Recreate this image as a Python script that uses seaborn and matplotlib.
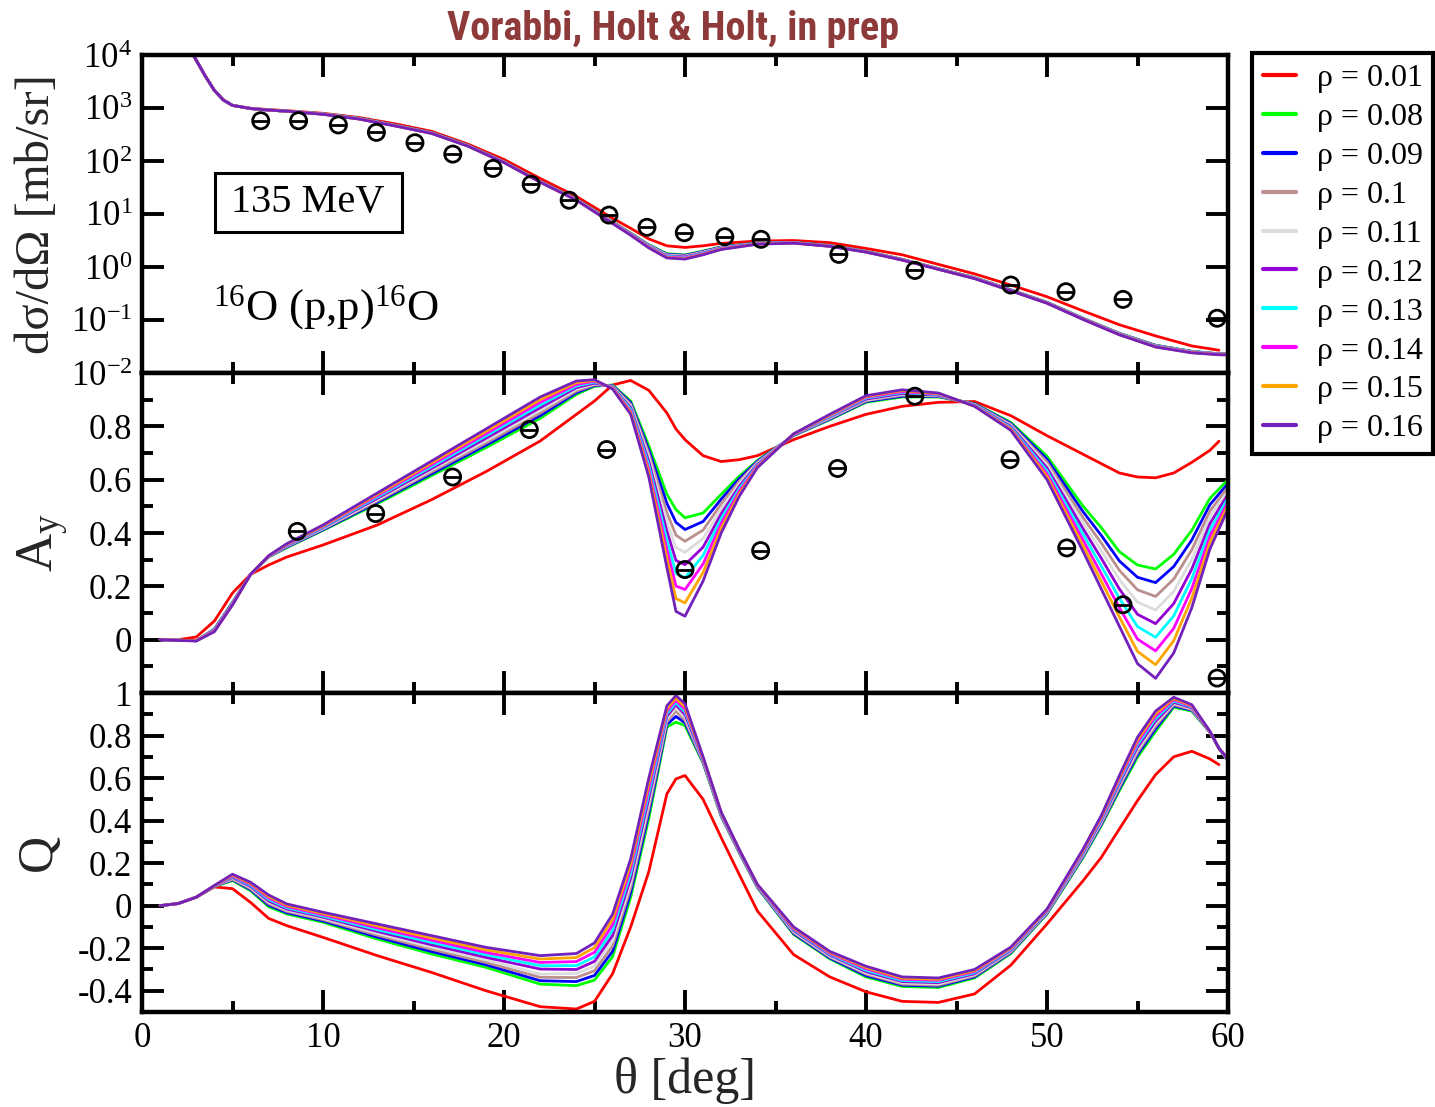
import numpy as np
import pandas as pd
import matplotlib
matplotlib.use("Agg")
import matplotlib.pyplot as plt
import seaborn as sns
from matplotlib import font_manager
from matplotlib.lines import Line2D
from matplotlib.patches import Rectangle
from matplotlib.ticker import (MultipleLocator, FixedLocator, FuncFormatter,
                               LogLocator, NullLocator, LogFormatterSciNotation)

nan = np.nan

# ---------------- legend / series names ----------------
RHO_LABELS = ["ρ = 0.01", "ρ = 0.08", "ρ = 0.09", "ρ = 0.1", "ρ = 0.11",
              "ρ = 0.12", "ρ = 0.13", "ρ = 0.14", "ρ = 0.15", "ρ = 0.16"]
COLORS = ["#FF0000", "#00FF00", "#0000FF", "#BC8F8F", "#DCDCDC",
          "#9400D3", "#00FFFF", "#FF00FF", "#FFA500", "#7221BC"]

# ---------------- cross section (mb/sr) ----------------
TH_XS = [2.5, 3, 3.5, 4, 4.5, 5, 6, 7, 8, 10, 12, 14, 16, 18, 20, 22, 24, 26, 27, 28,
         29, 30, 31, 32, 34, 36, 38, 40, 42, 44, 46, 48, 50, 52, 54, 56, 58, 59.5, 60]
XS_001 = [15800, 7940, 3980, 2140, 1410, 1120, 989, 933, 891, 794, 661, 501, 363, 209, 107, 46.8, 21.4, 8.32, 5.37, 3.39,
          2.51, 2.34, 2.51, 2.79, 3.09, 3.16, 2.88, 2.24, 1.70, 1.12, .741, .457, .275, .148, .0813, .0501, .0324, .0269, nan]
XS_008 = [15800, 7940, 3980, 2140, 1410, 1120, 977, 912, 871, 776, 639, 473, 343, 198, 96.6, 41.2, 19.1, 7.09, 4.36, 2.63,
          1.78, 1.69, 2.00, 2.40, 2.85, 2.92, 2.54, 1.98, 1.40, .934, .631, .372, .217, .108, .0563, .0335, .0257, .0231, .0229]
XS_009 = [15800, 7940, 3980, 2140, 1410, 1120, 977, 912, 871, 774, 636, 471, 341, 197, 96.2, 41.0, 18.9, 7.02, 4.31, 2.58,
          1.74, 1.66, 1.96, 2.37, 2.83, 2.91, 2.53, 1.97, 1.39, .930, .628, .370, .215, .107, .0558, .0332, .0255, .0230, .0228]
XS_010 = [15800, 7940, 3980, 2140, 1410, 1120, 977, 912, 871, 772, 633, 469, 340, 196, 95.7, 40.8, 18.8, 6.96, 4.26, 2.54,
          1.70, 1.62, 1.92, 2.33, 2.81, 2.89, 2.51, 1.96, 1.385, .925, .624, .367, .214, .106, .0553, .0328, .0253, .0229, .0227]
XS_011 = [15800, 7940, 3980, 2140, 1410, 1120, 977, 912, 871, 770, 631, 467, 338, 195, 95.4, 40.7, 18.7, 6.90, 4.21, 2.50,
          1.66, 1.58, 1.88, 2.30, 2.79, 2.88, 2.50, 1.95, 1.38, .922, .620, .365, .213, .106, .0548, .0325, .0251, .0227, .0225]
XS_012 = [15800, 7940, 3980, 2140, 1410, 1120, 977, 912, 871, 768, 627, 465, 337, 194, 94.9, 40.5, 18.6, 6.84, 4.17, 2.45,
          1.62, 1.55, 1.84, 2.27, 2.77, 2.87, 2.49, 1.94, 1.373, .917, .617, .363, .212, .105, .0543, .0322, .0248, .0226, .0224]
XS_013 = [15800, 7940, 3980, 2140, 1410, 1120, 977, 912, 871, 766, 625, 463, 335, 193.5, 94.5, 40.3, 18.5, 6.78, 4.12, 2.41,
          1.59, 1.51, 1.81, 2.23, 2.75, 2.86, 2.48, 1.935, 1.368, .914, .613, .361, .211, .104, .0539, .0319, .0246, .0225, .0223]
XS_014 = [15800, 7940, 3980, 2140, 1410, 1120, 977, 912, 871, 764, 623, 461, 334, 193, 94.1, 40.2, 18.4, 6.72, 4.07, 2.37,
          1.55, 1.48, 1.77, 2.20, 2.73, 2.85, 2.47, 1.93, 1.362, .910, .610, .359, .209, .104, .0534, .0315, .0244, .0224, .0222]
XS_015 = [15800, 7940, 3980, 2140, 1410, 1120, 977, 912, 871, 761, 619, 459, 332, 192, 93.7, 40.0, 18.3, 6.67, 4.03, 2.33,
          1.51, 1.44, 1.73, 2.17, 2.71, 2.83, 2.46, 1.92, 1.355, .906, .607, .357, .208, .103, .0530, .0312, .0242, .0222, .0220]
XS_016 = [15800, 7940, 3980, 2140, 1410, 1120, 977, 912, 871, 759, 617, 457, 331, 191, 93.3, 39.8, 18.2, 6.61, 3.98, 2.29,
          1.48, 1.41, 1.70, 2.14, 2.69, 2.82, 2.45, 1.91, 1.35, .902, .603, .355, .207, .102, .0525, .0309, .0240, .0221, .0219]

# ---------------- analysing power A_y and Q ----------------
TH = [1, 2, 3, 4, 5, 6, 7, 8, 10, 13, 16, 19, 22, 24, 25, 26, 27, 28, 29, 29.5, 30, 31, 32, 33, 34,
      36, 38, 40, 42, 44, 46, 48, 50, 52, 53, 54, 55, 56, 57, 58, 59, 59.5, 60]

AY_001 = [0, 0, .01, .07, .175, .245, .28, .31, .355, .43, .525, .63, .745, .845, .895, .955, .972, .935, .85, .79,
          .75, .69, .668, .675, .69, .75, .80, .845, .875, .89, .893, .84, .765, .695, .66, .625, .61, .607, .625,
          .665, .71, .744, nan]
AY_008 = [0, -.002, -.004, .040, .140, .245, .310, .345, .410, .510, .615, .720, .830, .920, .950, .955, .895, .727,
          .545, .488, .457, .475, .545, .613, .672, .765, .825, .890, .910, .910, .885, .815, .688, .500, .420, .330,
          .280, .265, .320, .410, .530, .565, .600]
AY_009 = [0, -.002, -.004, .039, .139, .245, .311, .347, .412, .515, .622, .729, .840, .926, .953, .953, .889, .712,
          .511, .440, .413, .443, .527, .604, .669, .766, .827, .893, .913, .912, .884, .811, .677, .479, .391, .295,
          .234, .214, .274, .374, .506, .546, .586]
AY_010 = [0, -.002, -.004, .037, .137, .245, .311, .349, .415, .520, .629, .737, .850, .932, .956, .951, .882, .698,
          .476, .392, .369, .411, .509, .594, .665, .767, .830, .896, .917, .914, .882, .807, .666, .457, .362, .260,
          .187, .162, .227, .337, .482, .527, .572]
AY_011 = [0, -.002, -.004, .036, .136, .245, .312, .351, .417, .525, .636, .746, .860, .939, .959, .949, .876, .683,
          .442, .345, .328, .379, .491, .585, .662, .768, .832, .899, .920, .916, .881, .804, .655, .436, .334, .225,
          .141, .111, .181, .301, .459, .509, .559]
AY_012 = [0, -.002, -.004, .035, .135, .245, .312, .352, .420, .530, .642, .755, .870, .945, .962, .947, .870, .668,
          .407, .297, .281, .347, .472, .575, .658, .768, .835, .902, .923, .917, .880, .800, .644, .415, .305, .190,
          .095, .060, .135, .265, .435, .490, .545]
AY_013 = [0, -.002, -.004, .034, .134, .245, .313, .354, .422, .535, .649, .764, .880, .951, .966, .946, .864, .654,
          .373, .249, .232, .316, .454, .566, .655, .769, .837, .906, .927, .919, .879, .796, .633, .394, .276, .155,
          .049, .009, .089, .229, .411, .471, .531]
AY_014 = [0, -.002, -.004, .033, .133, .245, .314, .356, .425, .540, .656, .772, .890, .957, .969, .944, .857, .639,
          .339, .201, .188, .284, .436, .557, .652, .770, .840, .909, .930, .921, .877, .792, .622, .372, .247, .120,
          .002, -.042, .042, .192, .387, .452, .517]
AY_015 = [0, -.002, -.004, .031, .131, .245, .314, .358, .427, .545, .663, .781, .900, .964, .972, .942, .851, .625,
          .304, .154, .138, .252, .418, .547, .648, .771, .842, .912, .934, .923, .876, .789, .611, .351, .219, .085,
          -.044, -.094, -.004, .156, .364, .434, .504]
AY_016 = [0, -.003, -.005, .030, .130, .245, .315, .360, .430, .550, .670, .790, .910, .970, .975, .940, .845, .610,
          .270, .106, .088, .220, .400, .538, .645, .772, .845, .915, .937, .925, .875, .785, .600, .330, .190, .050,
          -.090, -.145, -.050, .120, .340, .415, .490]

Q_001 = [0, .01, .04, .088, .08, .015, -.06, -.094, -.149, -.235, -.314, -.40, -.475, -.486, -.45, -.32, -.10, .16,
         .526, .596, .612, .50, .32, .146, -.025, -.23, -.335, -.405, -.45, -.455, -.415, -.28, -.086, .118, .227,
         .361, .494, .616, .70, .726, .69, .663, nan]
Q_008 = [0, .01, .04, .090, .118, .070, -.005, -.039, -.078, -.157, -.227, -.290, -.369, -.376, -.350, -.240, .040,
         .410, .840, .863, .847, .670, .420, .248, .085, -.135, -.250, -.335, -.380, -.385, -.340, -.225, -.039,
         .227, .376, .541, .698, .820, .933, .915, .815, .740, .680]
Q_009 = [0, .01, .04, .091, .122, .075, .002, -.033, -.072, -.148, -.216, -.278, -.353, -.357, -.328, -.215, .062,
         .434, .852, .890, .860, .674, .422, .250, .087, -.131, -.246, -.329, -.374, -.379, -.335, -.221, -.036,
         .232, .382, .550, .710, .832, .939, .919, .816, .740, .681]
Q_010 = [0, .01, .04, .091, .125, .080, .009, -.027, -.066, -.139, -.205, -.267, -.337, -.338, -.306, -.190, .085,
         .457, .865, .915, .872, .677, .425, .252, .089, -.126, -.241, -.322, -.369, -.374, -.330, -.217, -.033,
         .237, .388, .559, .721, .844, .945, .922, .816, .740, .682]
Q_011 = [0, .01, .04, .092, .129, .085, .016, -.021, -.060, -.130, -.195, -.255, -.322, -.319, -.284, -.165, .107,
         .481, .877, .930, .885, .681, .427, .254, .091, -.122, -.237, -.316, -.363, -.368, -.325, -.214, -.030,
         .242, .394, .568, .733, .856, .951, .926, .817, .740, .684]
Q_012 = [0, .01, .04, .092, .133, .090, .022, -.016, -.054, -.121, -.184, -.243, -.298, -.300, -.262, -.140, .130,
         .505, .890, .945, .898, .685, .430, .256, .092, -.117, -.232, -.310, -.357, -.362, -.320, -.210, -.027,
         .247, .400, .576, .745, .867, .956, .930, .817, .740, .685]
Q_013 = [0, .01, .04, .093, .137, .095, .029, -.010, -.049, -.113, -.173, -.231, -.282, -.282, -.241, -.115, .152,
         .529, .902, .955, .911, .689, .432, .258, .094, -.113, -.228, -.304, -.352, -.357, -.315, -.206, -.025,
         .252, .406, .585, .757, .879, .962, .934, .818, .740, .686]
Q_014 = [0, .01, .04, .094, .140, .100, .036, -.004, -.043, -.104, -.162, -.220, -.267, -.263, -.219, -.090, .175,
         .552, .915, .965, .923, .692, .435, .260, .096, -.109, -.224, -.297, -.346, -.351, -.310, -.202, -.022,
         .257, .412, .594, .768, .891, .968, .937, .819, .740, .687]
Q_015 = [0, .01, .04, .094, .144, .105, .043, .002, -.037, -.095, -.152, -.208, -.251, -.244, -.197, -.065, .197,
         .576, .927, .975, .936, .696, .437, .262, .098, -.104, -.219, -.291, -.341, -.346, -.305, -.199, -.019,
         .262, .418, .603, .780, .903, .974, .941, .819, .740, .689]
Q_016 = [0, .01, .04, .095, .148, .110, .050, .008, -.031, -.086, -.141, -.196, -.235, -.225, -.175, -.040, .220,
         .600, .940, .988, .949, .700, .440, .264, .100, -.100, -.215, -.285, -.335, -.340, -.300, -.195, -.016,
         .267, .424, .612, .792, .915, .980, .945, .820, .740, .690]

# ---------------- experimental data ----------------
XS_DATA_TH = [6.56, 8.65, 10.85, 12.95, 15.08, 17.17, 19.4, 21.5, 23.6, 25.8, 27.9, 29.96, 32.2, 34.2,
              38.5, 42.7, 48.0, 51.05, 54.2, 59.4]
XS_DATA = [575, 575, 479, 347, 221, 135, 72.4, 36.3, 18.2, 9.55, 5.61, 4.44, 3.73, 3.33,
           1.73, 0.861, 0.457, 0.342, 0.245, 0.108]
AY_DATA_TH = [8.58, 12.91, 17.16, 21.4, 25.67, 30.0, 34.18, 38.43, 42.7, 47.96, 51.09, 54.2, 59.4]
AY_DATA = [0.406, 0.473, 0.61, 0.788, 0.713, 0.263, 0.334, 0.642, 0.913, 0.675, 0.344, 0.131, -0.144]

XS_SERIES = [XS_001, XS_008, XS_009, XS_010, XS_011, XS_012, XS_013, XS_014, XS_015, XS_016]
AY_SERIES = [AY_001, AY_008, AY_009, AY_010, AY_011, AY_012, AY_013, AY_014, AY_015, AY_016]
Q_SERIES = [Q_001, Q_008, Q_009, Q_010, Q_011, Q_012, Q_013, Q_014, Q_015, Q_016]

# ---------------- style ----------------
sns.set_style("white")
plt.rcParams.update({
    "font.family": ["Liberation Serif", "DejaVu Serif"],
    "mathtext.fontset": "custom",
    "mathtext.rm": "Liberation Serif",
    "mathtext.it": "Liberation Serif:italic",
    "mathtext.bf": "Liberation Serif:bold",
    "axes.unicode_minus": False,
    "axes.edgecolor": "black",
    "text.color": "black",
    "xtick.color": "black",
    "ytick.color": "black",
})

PALETTE = dict(zip(RHO_LABELS, COLORS))


def long_frame(theta, series):
    frames = [pd.DataFrame({"theta": theta, "val": vals, "rho": lab})
              for lab, vals in zip(RHO_LABELS, series)]
    return pd.concat(frames, ignore_index=True)


def draw_family(ax, theta, series):
    df = long_frame(theta, series).dropna()
    sns.lineplot(data=df, x="theta", y="val", hue="rho", hue_order=RHO_LABELS,
                 palette=PALETTE, estimator=None, sort=False, linewidth=2.0,
                 legend=False, ax=ax)


def draw_points(ax, xs, ys):
    sns.scatterplot(x=xs, y=ys, marker="o", s=135, fc="none", ec="black",
                    linewidth=2.0, ax=ax, zorder=6, legend=False)
    sns.scatterplot(x=xs, y=ys, marker="_", s=135, color="black",
                    linewidth=2.0, ax=ax, zorder=6, legend=False)


fig = plt.figure(figsize=(14.35, 11.07), dpi=100)
L, W = 142 / 1435, 1086 / 1435
ax1 = fig.add_axes([L, 1 - 373 / 1107, W, 318 / 1107])
ax2 = fig.add_axes([L, 1 - 693 / 1107, W, 320 / 1107])
ax3 = fig.add_axes([L, 1 - 1012 / 1107, W, 319 / 1107])

draw_family(ax1, TH_XS, XS_SERIES)
draw_points(ax1, XS_DATA_TH, XS_DATA)
draw_family(ax2, TH, AY_SERIES)
draw_points(ax2, AY_DATA_TH, AY_DATA)
draw_family(ax3, TH, Q_SERIES)

for ax in (ax1, ax2, ax3):
    ax.set_xlim(0, 60)
    ax.xaxis.set_major_locator(MultipleLocator(10))
    ax.xaxis.set_minor_locator(MultipleLocator(5))
    ax.tick_params(which="both", direction="in", top=True, right=True,
                   bottom=True, left=True, width=2.8, colors="black",
                   labelsize=25, pad=7)
    ax.tick_params(which="major", length=16)
    ax.tick_params(which="minor", length=8)
    for sp in ax.spines.values():
        sp.set_linewidth(3.2)
        sp.set_color("black")
    ax.set_xlabel("")
    ax.set_ylabel("")
    ax.grid(False)

# top panel
ax1.set_yscale("log")
ax1.set_ylim(1e-2, 1e4)
ax1.yaxis.set_major_locator(LogLocator(base=10, numticks=20))
ax1.yaxis.set_minor_locator(NullLocator())
ax1.yaxis.set_major_formatter(LogFormatterSciNotation())
ax1.tick_params(labelbottom=False)

# middle panel
ax2.set_ylim(-0.2, 1.0)
ax2.yaxis.set_major_locator(FixedLocator([0, 0.2, 0.4, 0.6, 0.8]))
ax2.yaxis.set_minor_locator(FixedLocator([-0.1, 0.1, 0.3, 0.5, 0.7, 0.9]))
ax2.yaxis.set_major_formatter(FuncFormatter(lambda v, p: "%g" % round(v, 2)))
ax2.tick_params(labelbottom=False)

# bottom panel
ax3.set_ylim(-0.5, 1.0)
ax3.yaxis.set_major_locator(FixedLocator([-0.4, -0.2, 0, 0.2, 0.4, 0.6, 0.8, 1.0]))
ax3.yaxis.set_minor_locator(FixedLocator([-0.3, -0.1, 0.1, 0.3, 0.5, 0.7, 0.9]))
ax3.yaxis.set_major_formatter(FuncFormatter(lambda v, p: "%g" % round(v, 2)))
ax3.xaxis.set_major_formatter(FuncFormatter(lambda v, p: "%g" % v))

# axis labels
ax1.set_ylabel("dσ/dΩ [mb/sr]", fontsize=35)
ax1.yaxis.set_label_coords(-0.076, 0.5)
ax2.set_ylabel(r"A$_\mathregular{y}$", fontsize=38)
ax2.yaxis.set_label_coords(-0.066, 0.47)
ax3.set_ylabel("Q", fontsize=37)
ax3.yaxis.set_label_coords(-0.074, 0.5)
ax3.set_xlabel("θ [deg]", fontsize=36)
ax3.xaxis.set_label_coords(0.5, -0.14)

# annotations in the top panel
ax1.add_patch(Rectangle((0.0672, 0.4434), 0.1722, 0.1855, transform=ax1.transAxes,
                        fill=False, edgecolor="black", linewidth=2.2, zorder=7))
ax1.text(0.153, 0.536, "135 MeV", transform=ax1.transAxes, ha="center",
         va="center", fontsize=29, zorder=8)
ax1.text(0.065, 0.205, r"$^{16}$O (p,p)$^{16}$O", transform=ax1.transAxes,
         ha="left", va="center", fontsize=32)

# title: prefer a condensed bold sans face if one is installed
tfam, tsize, tstretch = ["Liberation Sans", "DejaVu Sans"], 24, "normal"
names = {f.name for f in font_manager.fontManager.ttflist}
for cand in ["Liberation Sans Narrow", "Roboto Condensed", "Open Sans Condensed",
             "Arial Narrow", "DejaVu Sans Condensed", "Noto Sans Condensed"]:
    if cand in names:
        tfam, tsize = [cand, "DejaVu Sans"], 29
        break
else:
    for f in font_manager.fontManager.ttflist:
        if f.name in ("DejaVu Sans", "Noto Sans", "Open Sans") and \
                str(f.stretch) in ("condensed", "semi-condensed", "extra-condensed", "75", "87"):
            tfam, tsize, tstretch = [f.name], 28, "condensed"
            break
fig.text(673 / 1435, 1 - 29 / 1107, "Vorabbi, Holt & Holt, in prep",
         ha="center", va="center", color="#8E3A3A", fontsize=tsize,
         fontweight="bold", family=tfam, fontstretch=tstretch)

# legend
handles = [Line2D([0], [0], color=c, lw=3) for c in COLORS]
leg = fig.legend(handles, RHO_LABELS, loc="upper left",
                 bbox_to_anchor=(1252 / 1435, 1 - 53 / 1107),
                 frameon=True, fancybox=False, shadow=False, framealpha=1,
                 edgecolor="black", borderaxespad=0, fontsize=23,
                 handlelength=1.05, handletextpad=0.65, labelspacing=0.3,
                 borderpad=0.33)
leg.get_frame().set_linewidth(3)

fig.savefig("out.png", dpi=100)
